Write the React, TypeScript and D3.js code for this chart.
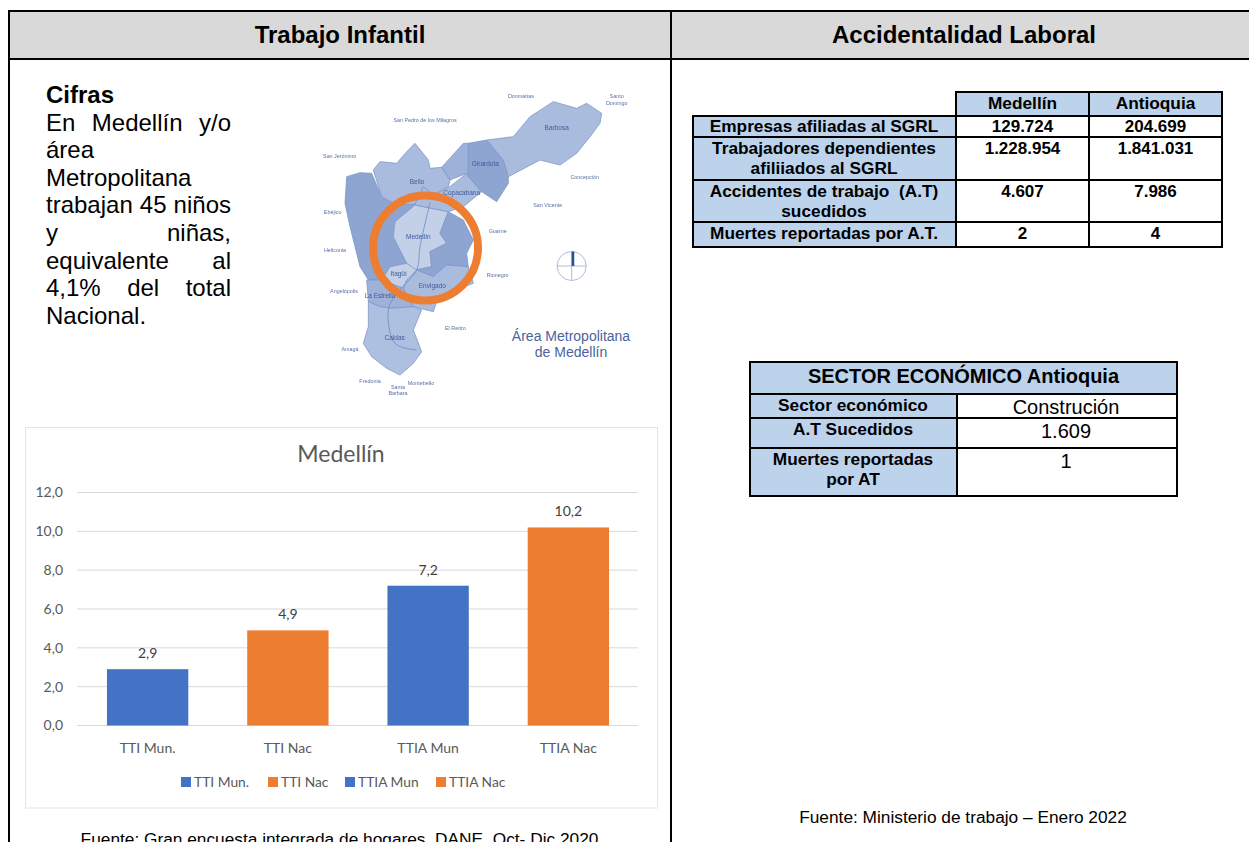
import { useEffect, useRef } from 'react'
import * as d3 from 'd3'

const categories = ['TTI Mun.', 'TTI Nac', 'TTIA Mun', 'TTIA Nac']
const values = [2.9, 4.9, 7.2, 10.2]
const yTicks = [0, 2, 4, 6, 8, 10, 12]
const barColors = ['#4472C4', '#ED7D31', '#4472C4', '#ED7D31']
const legendX = [181, 268, 345, 436]

const cifrasLines = [
	{ words: ['En', 'Medellín', 'y/o'], justify: true },
	{ words: ['área'], justify: false },
	{ words: ['Metropolitana'], justify: false },
	{ words: ['trabajan', '45', 'niños'], justify: true },
	{ words: ['y', 'niñas,'], justify: true },
	{ words: ['equivalente', 'al'], justify: true },
	{ words: ['4,1%', 'del', 'total'], justify: true },
	{ words: ['Nacional.'], justify: false },
]

const accidentColumns = ['Medellín', 'Antioquia']
const accidentRows = [
	['Empresas afiliadas al SGRL'],
	['Trabajadores dependientes', 'afiliiados al SGRL'],
	['Accidentes de trabajo  (A.T)', 'sucedidos'],
	['Muertes reportadas por A.T.'],
]
const accidentMedellin = ['129.724', '1.228.954', '4.607', '2']
const accidentAntioquia = ['204.699', '1.841.031', '7.986', '4']

const sectorTitle = 'SECTOR ECONÓMICO Antioquia'
const sectorRows = [['Sector económico'], ['A.T Sucedidos'], ['Muertes reportadas', 'por AT']]
const sectorValues = ['Construción', '1.609', '1']

// map shapes, traced in a 1050x990 frame and scaled onto the page
const mapRegions = [
	{ fill: '#8ea5d1', pts: [[140, 290], [180, 278], [215, 280], [245, 350], [290, 375], [345, 372], [310, 410], [285, 425], [280, 470], [300, 510], [320, 550], [270, 560], [245, 600], [205, 600], [180, 560], [165, 500], [150, 440], [135, 370]] },
	{ fill: '#a9bcde', pts: [[220, 270], [240, 245], [290, 250], [320, 215], [345, 190], [385, 240], [390, 265], [425, 262], [450, 300], [445, 320], [400, 345], [370, 320], [345, 372], [290, 375], [245, 350]] },
	{ fill: '#c3d0e8', pts: [[285, 425], [345, 375], [445, 395], [420, 460], [440, 490], [390, 515], [395, 560], [345, 570], [320, 550], [300, 510], [280, 470]] },
	{ fill: '#8ea5d1', pts: [[445, 395], [490, 420], [520, 480], [500, 520], [505, 560], [440, 555], [400, 590], [350, 570], [395, 560], [390, 515], [440, 490], [420, 460]] },
	{ fill: '#a9bcde', pts: [[370, 320], [400, 345], [450, 320], [500, 280], [505, 290], [545, 335], [490, 380], [445, 395], [345, 375], [345, 372]] },
	{ fill: '#9db1d9', pts: [[425, 262], [490, 190], [505, 190], [505, 290], [500, 280], [450, 300]] },
	{ fill: '#8ea5d1', pts: [[505, 190], [560, 180], [610, 240], [625, 290], [625, 310], [590, 365], [545, 335], [505, 290]] },
	{ fill: '#a9bcde', pts: [[560, 180], [640, 170], [690, 110], [760, 65], [830, 85], [860, 70], [905, 100], [900, 130], [870, 170], [830, 220], [780, 255], [720, 240], [625, 290], [610, 240]] },
	{ fill: '#a9bcde', pts: [[320, 600], [350, 570], [400, 590], [440, 555], [505, 560], [520, 610], [415, 650], [400, 695], [340, 680], [310, 625]] },
	{ fill: '#c3d0e8', pts: [[245, 600], [270, 560], [320, 550], [350, 570], [320, 600], [310, 625]] },
	{ fill: '#9db1d9', pts: [[200, 600], [245, 600], [310, 625], [340, 680], [275, 685], [240, 680], [205, 665]] },
	{ fill: '#adc0e0', pts: [[205, 665], [240, 680], [275, 685], [340, 680], [365, 690], [340, 750], [365, 815], [340, 850], [300, 885], [260, 865], [215, 830], [190, 790], [205, 740]] },
]
const mapRiver = [[390, 368], [360, 500], [350, 570], [290, 640], [265, 690], [285, 790], [350, 810]]
const mapTowns = [
	{ name: 'Donmatías', x: 663, y: 55, big: false },
	{ name: 'Santo', x: 950, y: 55, big: false },
	{ name: 'Domingo', x: 950, y: 74, big: false },
	{ name: 'San Pedro de los Milagros', x: 375, y: 126, big: false },
	{ name: 'San Jerónimo', x: 119, y: 235, big: false },
	{ name: 'Concepción', x: 854, y: 296, big: false },
	{ name: 'San Vicente', x: 743, y: 382, big: false },
	{ name: 'Ebéjico', x: 98, y: 401, big: false },
	{ name: 'Guarne', x: 593, y: 460, big: false },
	{ name: 'Heliconia', x: 105, y: 515, big: false },
	{ name: 'Rionegro', x: 593, y: 590, big: false },
	{ name: 'Angelópolis', x: 132, y: 638, big: false },
	{ name: 'El Retiro', x: 466, y: 749, big: false },
	{ name: 'Amagá', x: 150, y: 813, big: false },
	{ name: 'Fredonia', x: 210, y: 910, big: false },
	{ name: 'Montebello', x: 363, y: 915, big: false },
	{ name: 'Santa', x: 294, y: 926, big: false },
	{ name: 'Barbara', x: 294, y: 945, big: false },
	{ name: 'Barbosa', x: 770, y: 150, big: true },
	{ name: 'Girardota', x: 556, y: 258, big: true },
	{ name: 'Bello', x: 351, y: 311, big: true },
	{ name: 'Copacabana', x: 485, y: 346, big: true },
	{ name: 'Medellín', x: 355, y: 477, big: true },
	{ name: 'Itagüí', x: 296, y: 587, big: true },
	{ name: 'Envigado', x: 397, y: 623, big: true },
	{ name: 'La Estrella', x: 240, y: 653, big: true },
	{ name: 'Caldas', x: 284, y: 779, big: true },
]

const SANS = '"Liberation Sans", Arial, sans-serif'
const CHART_FONT = 'Lato, "Open Sans", sans-serif'
const INK = '#000'
const TABLE_BLUE = '#BDD3EC'

function App() {
	const svgRef = useRef<SVGSVGElement>(null)

	useEffect(() => {
		const svg = d3.select(svgRef.current)
		svg.selectAll('*').remove()

		svg.append('rect').attr('width', 1249).attr('height', 842).attr('fill', '#fff')

		// Outer frame and column titles
		svg.append('rect').attr('x', 9).attr('y', 11).attr('width', 1240).attr('height', 48).attr('fill', '#D9D9D9')
		const rule = (x1: number, y1: number, x2: number, y2: number) =>
			svg.append('line').attr('x1', x1).attr('y1', y1).attr('x2', x2).attr('y2', y2).attr('stroke', INK).attr('stroke-width', 2)
		rule(8, 11, 1249, 11)
		rule(8, 59, 1249, 59)
		rule(9, 10, 9, 842)
		rule(671, 10, 671, 842)

		const heading = (label: string, x: number) =>
			svg.append('text').attr('x', x).attr('y', 43).attr('text-anchor', 'middle')
				.attr('font-family', SANS).attr('font-size', 24).attr('font-weight', 700).text(label)
		heading('Trabajo Infantil', 340)
		heading('Accidentalidad Laboral', 964)

		// Cifras paragraph, justified line by line
		const para = svg.append('g').attr('font-family', SANS).attr('font-size', 24).attr('fill', INK)
		para.append('text').attr('x', 46).attr('y', 103).attr('font-weight', 700).text('Cifras')
		cifrasLines.forEach((line, i) => {
			const t = para.append('text').attr('x', 46).attr('y', 130.5 + i * 27.6).text(line.words.join(' '))
			if (line.justify) {
				const len = (t.node() as SVGTextElement).getComputedTextLength()
				t.attr('word-spacing', (185 - len) / (line.words.length - 1))
			}
		})

		// Map
		const defs = svg.append('defs')
		defs.append('filter').attr('id', 'soft').append('feGaussianBlur').attr('stdDeviation', 0.6)
		const mx = d3.scaleLinear().domain([0, 1050]).range([300, 650])
		const my = d3.scaleLinear().domain([0, 990]).range([80, 410])
		const outline = d3.line().x(d => mx(d[0])).y(d => my(d[1])).curve(d3.curveLinearClosed)
		const map = svg.append('g').attr('filter', 'url(#soft)')
		map.selectAll('path.region')
			.data(mapRegions)
			.enter()
			.append('path')
			.attr('class', 'region')
			.attr('d', d => outline(d.pts as [number, number][]))
			.attr('fill', d => d.fill)
			.attr('stroke', '#7f98c9')
			.attr('stroke-width', 0.8)
			.attr('stroke-linejoin', 'round')
		map.append('path')
			.attr('d', d3.line().x(d => mx(d[0])).y(d => my(d[1])).curve(d3.curveCatmullRom)(mapRiver as [number, number][]))
			.attr('fill', 'none')
			.attr('stroke', '#6f8bc0')
			.attr('stroke-width', 0.8)
		map.selectAll('text')
			.data(mapTowns)
			.enter()
			.append('text')
			.attr('x', d => mx(d.x))
			.attr('y', d => my(d.y))
			.attr('text-anchor', 'middle')
			.attr('font-family', SANS)
			.attr('font-size', d => d.big ? 6.5 : 5.4)
			.attr('fill', d => d.big ? '#3f5a9c' : '#5a70a8')
			.text(d => d.name)

		// compass
		const compass = svg.append('g')
		compass.append('circle').attr('cx', mx(815)).attr('cy', my(558)).attr('r', 14.5).attr('fill', 'none').attr('stroke', '#aebbdb').attr('stroke-width', 1)
		compass.append('line').attr('x1', mx(815)).attr('x2', mx(815)).attr('y1', my(558) - 14.5).attr('y2', my(558) + 14.5).attr('stroke', '#aebbdb')
		compass.append('line').attr('x1', mx(815) - 14.5).attr('x2', mx(815) + 14.5).attr('y1', my(558)).attr('y2', my(558)).attr('stroke', '#aebbdb')
		compass.append('rect').attr('x', mx(815)).attr('y', my(558) - 14.5).attr('width', 2.6).attr('height', 14.5).attr('fill', '#2f4f8f')

		const mapTitle = svg.append('g').attr('font-family', SANS).attr('font-size', 14).attr('fill', '#4a64a0').attr('text-anchor', 'middle')
		mapTitle.append('text').attr('x', 571).attr('y', 341).text('Área Metropolitana')
		mapTitle.append('text').attr('x', 571).attr('y', 357).text('de Medellín')

		svg.append('circle').attr('cx', 425.5).attr('cy', 248).attr('r', 52.5).attr('fill', 'none').attr('stroke', '#ED7D31').attr('stroke-width', 8)

		// Chart
		const chart = svg.append('g').attr('font-family', CHART_FONT)
		chart.append('rect').attr('x', 25.5).attr('y', 427.5).attr('width', 632).attr('height', 380.5).attr('fill', '#fff').attr('stroke', '#E4E4E4')
		chart.append('text').attr('x', 341).attr('y', 462).attr('text-anchor', 'middle').attr('font-size', 23).attr('fill', '#595959').text('Medellín')

		const x = d3.scaleBand().domain(categories).range([77.5, 638.5]).paddingInner(0.42).paddingOuter(0.21)
		const y = d3.scaleLinear().domain([0, 12]).range([725.5, 492.5])

		chart.append('g')
			.selectAll('line')
			.data(yTicks)
			.enter()
			.append('line')
			.attr('x1', 77)
			.attr('x2', 638)
			.attr('y1', d => y(d))
			.attr('y2', d => y(d))
			.attr('stroke', '#D9D9D9')

		const fmt = (v: number) => d3.format('.1f')(v).replace('.', ',')
		const yAxis = d3.axisLeft(y).tickValues(yTicks).tickFormat(d => fmt(d as number)).tickSize(0).tickPadding(0)
		const yg = chart.append('g').attr('transform', 'translate(63,0)').call(yAxis)
		yg.select('.domain').remove()
		yg.selectAll('text').attr('font-family', CHART_FONT).attr('font-size', 14).attr('fill', '#595959')

		const xAxis = d3.axisBottom(x).tickSize(0).tickPadding(18)
		const xg = chart.append('g').attr('transform', 'translate(0,725.5)').call(xAxis)
		xg.select('.domain').remove()
		xg.selectAll('text').attr('font-family', CHART_FONT).attr('font-size', 14).attr('fill', '#595959')

		chart.selectAll('rect.bar')
			.data(values)
			.enter()
			.append('rect')
			.attr('class', 'bar')
			.attr('x', (d, i) => x(categories[i]) as number)
			.attr('y', d => y(d))
			.attr('width', x.bandwidth())
			.attr('height', d => y(0) - y(d))
			.attr('fill', (d, i) => barColors[i])

		chart.selectAll('text.value')
			.data(values)
			.enter()
			.append('text')
			.attr('class', 'value')
			.attr('x', (d, i) => (x(categories[i]) as number) + x.bandwidth() / 2)
			.attr('y', d => y(d) - 11)
			.attr('text-anchor', 'middle')
			.attr('font-size', 14)
			.attr('fill', '#404040')
			.text(d => fmt(d))

		const legend = chart.selectAll('g.legend')
			.data(categories)
			.enter()
			.append('g')
			.attr('class', 'legend')
			.attr('transform', (d, i) => `translate(${legendX[i]},777)`)
		legend.append('rect').attr('width', 10).attr('height', 10).attr('fill', (d, i) => barColors[i])
		legend.append('text').attr('x', 13).attr('y', 10).attr('font-size', 13.8).attr('fill', '#595959').text(d => d)

		// Tables
		const cellRect = (g: any, x0: number, y0: number, x1: number, y1: number, fill: string) =>
			g.append('rect').attr('x', x0).attr('y', y0).attr('width', x1 - x0).attr('height', y1 - y0)
				.attr('fill', fill).attr('stroke', INK).attr('stroke-width', 2)
		const cellText = (g: any, cx: number, by: number, label: string, size: number, weight: number) =>
			g.append('text').attr('x', cx).attr('y', by).attr('text-anchor', 'middle').style('white-space', 'pre')
				.attr('font-family', SANS).attr('font-size', size).attr('font-weight', weight).attr('fill', INK).text(label)

		const t1 = svg.append('g')
		const t1x = [693, 956, 1089, 1222]
		const t1y = [116, 137, 180, 222, 247]
		cellRect(t1, t1x[1], 92, t1x[2], t1y[0], TABLE_BLUE)
		cellRect(t1, t1x[2], 92, t1x[3], t1y[0], TABLE_BLUE)
		accidentColumns.forEach((c, i) => cellText(t1, (t1x[i + 1] + t1x[i + 2]) / 2, 109, c, 17.3, 700))
		accidentRows.forEach((lines, i) => {
			const top = t1y[i]
			const bottom = t1y[i + 1]
			cellRect(t1, t1x[0], top, t1x[1], bottom, TABLE_BLUE)
			cellRect(t1, t1x[1], top, t1x[2], bottom, '#fff')
			cellRect(t1, t1x[2], top, t1x[3], bottom, '#fff')
			const base = top + (i === 0 ? 15.5 : 17)
			lines.forEach((l, j) => cellText(t1, (t1x[0] + t1x[1]) / 2 - 0.5, base + j * 20, l, 17.3, 700))
			cellText(t1, (t1x[1] + t1x[2]) / 2, base, accidentMedellin[i], 17, 700)
			cellText(t1, (t1x[2] + t1x[3]) / 2, base, accidentAntioquia[i], 17, 700)
		})

		const t2 = svg.append('g')
		const t2x = [750, 957, 1177]
		const t2y = [394, 418, 448, 496]
		cellRect(t2, t2x[0], 362, t2x[2], t2y[0], TABLE_BLUE)
		cellText(t2, (t2x[0] + t2x[2]) / 2, 383, sectorTitle, 20, 700)
		sectorRows.forEach((lines, i) => {
			const top = t2y[i]
			const bottom = t2y[i + 1]
			cellRect(t2, t2x[0], top, t2x[1], bottom, TABLE_BLUE)
			cellRect(t2, t2x[1], top, t2x[2], bottom, '#fff')
			lines.forEach((l, j) => cellText(t2, (t2x[0] + t2x[1]) / 2 - 0.5, top + 17 + j * 20, l, 17.3, 700))
			cellText(t2, (t2x[1] + t2x[2]) / 2 - 1, top + 20, sectorValues[i], 20, 400)
		})

		// Sources
		const source = (label: string, cx: number, by: number) =>
			svg.append('text').attr('x', cx).attr('y', by).attr('text-anchor', 'middle')
				.attr('font-family', SANS).attr('font-size', 17.3).attr('fill', INK).text(label)
		source('Fuente: Gran encuesta integrada de hogares, DANE, Oct- Dic 2020', 339.5, 845)
		source('Fuente: Ministerio de trabajo – Enero 2022', 963, 823)
	}, [])

	return <svg ref={svgRef} width={1249} height={842} style={{ position: 'absolute', left: 0, top: 0, display: 'block' }} />
}

export default App
